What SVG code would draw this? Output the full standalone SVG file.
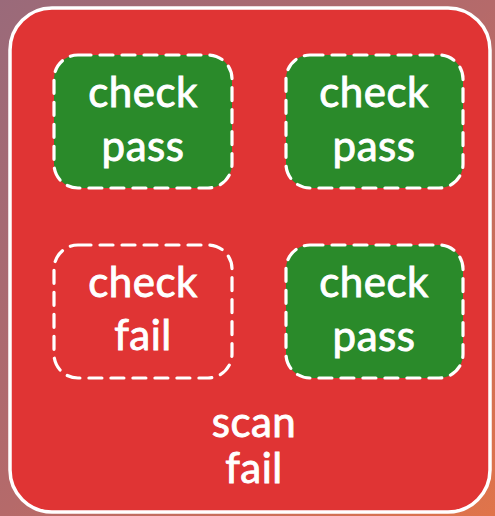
<svg xmlns="http://www.w3.org/2000/svg" width="495" height="516" viewBox="0 0 495 516">
<defs>
<linearGradient id="bg" x1="0" y1="0" x2="1" y2="1">
<stop offset="0" stop-color="#9a6a7a"/>
<stop offset="0.5" stop-color="#b56a6a"/>
<stop offset="1" stop-color="#e0744a"/>
</linearGradient>
</defs>
<style>
.node{stroke:#fff;stroke-width:3.2;stroke-dasharray:13 9;stroke-linecap:round}
.pass{fill:#2a8a2a}
.fail{fill:#e03434}
text{font-family:"Lato","Open Sans",sans-serif;font-size:42px;fill:#fff;stroke:#fff;stroke-width:0.9;text-anchor:middle;letter-spacing:0.5px}
</style>
<rect width="495" height="516" fill="url(#bg)"/>
<g id="scan">
<rect x="10" y="8" width="480" height="504" rx="42" fill="#e03434" stroke="#fff" stroke-width="3.5"/>
<text x="254" y="437">scan</text>
<text x="254" y="483">fail</text>
</g>
<g id="check1">
<rect class="node pass" x="54" y="55" width="178" height="133" rx="24"/>
<text x="143" y="107">check</text>
<text x="143" y="161">pass</text>
</g>
<g id="check2">
<rect class="node pass" x="286" y="55" width="177" height="133" rx="24"/>
<text x="374" y="107">check</text>
<text x="374" y="161">pass</text>
</g>
<g id="check3">
<rect class="node fail" x="54" y="245" width="178" height="133" rx="24"/>
<text x="143" y="297">check</text>
<text x="143" y="350">fail</text>
</g>
<g id="check4">
<rect class="node pass" x="286" y="245" width="177" height="133" rx="24"/>
<text x="374" y="297">check</text>
<text x="374" y="351">pass</text>
</g>
<g id="connectors"></g>
</svg>
